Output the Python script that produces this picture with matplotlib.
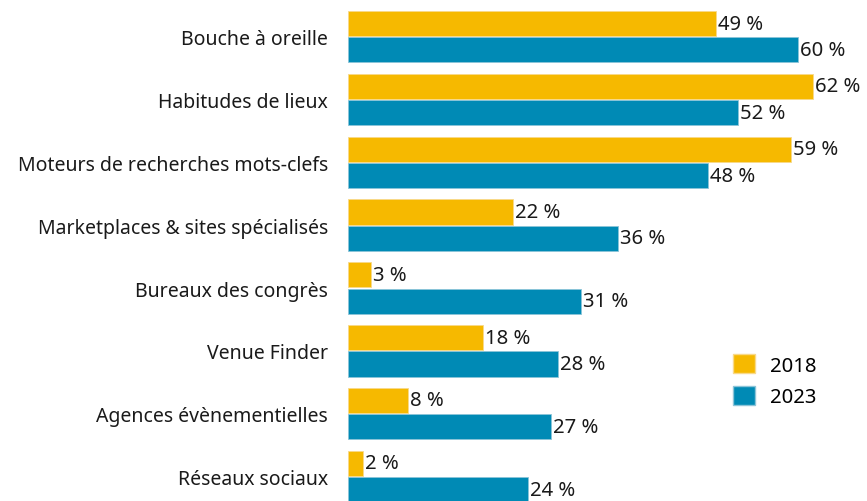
import matplotlib.pyplot as plt
import numpy as np
from matplotlib.patches import Patch

plt.rcParams['font.family'] = ['Noto Sans', 'DejaVu Sans']

# canaux utilisés pour trouver un lieu
categories = ["Bouche à oreille", "Habitudes de lieux", "Moteurs de recherches mots-clefs",
              "Marketplaces & sites spécialisés", "Bureaux des congrès", "Venue Finder",
              "Agences évènementielles", "Réseaux sociaux"]
valeurs_2018 = [49, 62, 59, 22, 3, 18, 8, 2]
valeurs_2023 = [60, 52, 48, 36, 31, 28, 27, 24]

couleur_2018 = "#F6B900"
couleur_2023 = "#008AB5"

fig = plt.figure(figsize=(8.67, 5.02), dpi=100)
ax = fig.add_axes([348 / 867, 0, 519 / 867, 1])

y = np.arange(len(categories))
h = 0.4
ax.barh(y - 0.21, valeurs_2018, height=h, color=couleur_2018, edgecolor="#F8D98A", linewidth=0.6)
ax.barh(y + 0.21, valeurs_2023, height=h, color=couleur_2023, edgecolor="#8CC4D8", linewidth=0.6)

for i in range(len(categories)):
    ax.text(valeurs_2018[i] + 0.3, y[i] - 0.21, f"{valeurs_2018[i]} %", va="center", ha="left",
            fontsize=14.6, color="#1a1a1a")
    ax.text(valeurs_2023[i] + 0.3, y[i] + 0.21, f"{valeurs_2023[i]} %", va="center", ha="left",
            fontsize=14.6, color="#1a1a1a")

ax.set_xlim(0, 69.2)
ax.set_ylim(7.39, -0.6)
ax.set_yticks(y)
ax.set_yticklabels(categories, fontsize=14, color="#1a1a1a")
ax.tick_params(axis="y", length=0, pad=14.4)
ax.set_xticks([])
for s in ax.spines.values():
    s.set_visible(False)

leg = ax.legend(handles=[Patch(facecolor=couleur_2018, edgecolor="#F8D98A", label="2018"),
                         Patch(facecolor=couleur_2023, edgecolor="#8CC4D8", label="2023")],
                loc="upper left", bbox_to_anchor=(0.742, 0.293), frameon=False, fontsize=14.6,
                borderpad=0, borderaxespad=0,
                handlelength=1.1, handleheight=1.1, handletextpad=0.7, labelspacing=0.5)

fig.savefig("out.png", dpi=100)
